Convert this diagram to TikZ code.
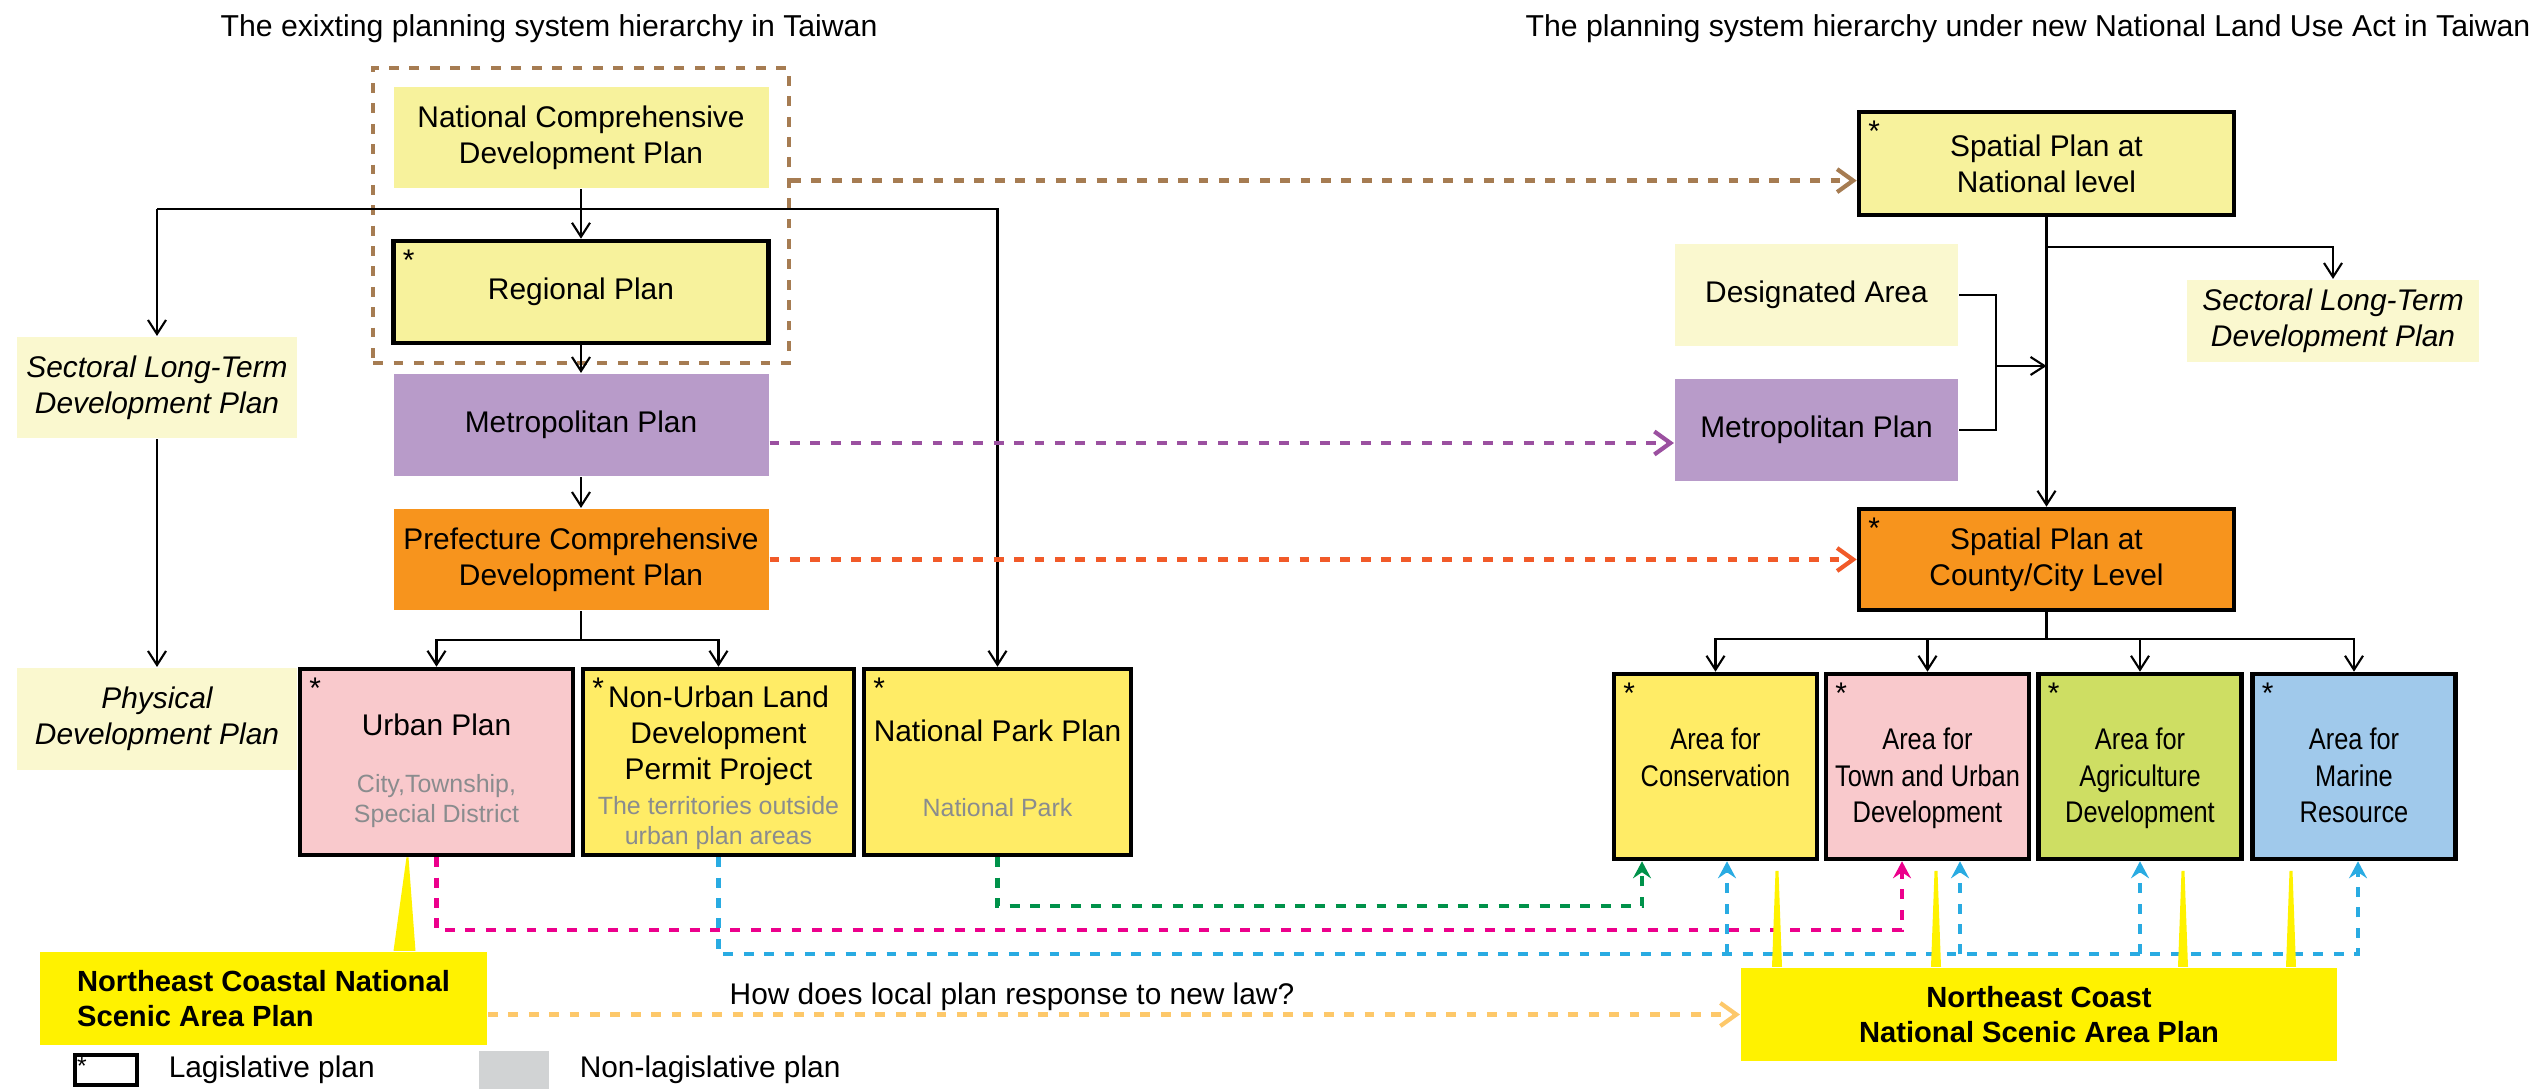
\documentclass[tikz,border=0pt]{standalone}
\usepackage{fontspec}
\setmainfont{Liberation Sans}
\newfontfamily\narrowfont[FakeStretch=0.85]{Liberation Sans}
\usepackage{xcolor}
\usepackage{tikz}
\usetikzlibrary{positioning,arrows.meta,fit}

\definecolor{paleyellow}{HTML}{FAF8CF}
\definecolor{planyellow}{HTML}{F7F29C}
\definecolor{lavender}{HTML}{B89BC9}
\definecolor{planorange}{HTML}{F7941D}
\definecolor{planpink}{HTML}{F9C9CC}
\definecolor{brightyellow}{HTML}{FFEC66}
\definecolor{planlime}{HTML}{CEDE63}
\definecolor{planblue}{HTML}{A0C9EB}
\definecolor{calloutyellow}{HTML}{FFF200}
\definecolor{linkbrown}{HTML}{A67C52}
\definecolor{linkpurple}{HTML}{9B50A0}
\definecolor{linkred}{HTML}{F15A29}
\definecolor{linkgreen}{HTML}{00924A}
\definecolor{linkpink}{HTML}{EC008C}
\definecolor{linkblue}{HTML}{29ABE2}
\definecolor{linkpeach}{HTML}{FDC86A}
\definecolor{subgray}{HTML}{8A8C8E}
\definecolor{legendgray}{HTML}{D1D3D4}

\newcommand{\plantxt}{\fontsize{8.5}{10.3}\selectfont}
\newcommand{\areatxt}{\narrowfont\fontsize{8.5}{10.3}\selectfont}
\newcommand{\subtxt}{\fontsize{7.1}{8.6}\selectfont\color{subgray}}
\newcommand{\calltxt}{\fontsize{8.3}{9.9}\selectfont\bfseries}
\newcommand{\titletxt}{\fontsize{8.6}{10.3}\selectfont}

\begin{document}
\begin{tikzpicture}[>={Straight Barb[length=1.4mm, width=1.8mm]}, line width=0.6pt,
  plan/.style={rectangle, align=center, inner sep=1pt, font=\plantxt},
  legisbox/.style={plan, draw, line width=1.3pt},
  legis/.style={legisbox, label={[anchor=north west, inner sep=3pt, font=\plantxt]north west:*}},
  widebox/.style={minimum width=3.75cm, minimum height=1.02cm},
  tallbox/.style={legis, minimum height=1.86cm},
  areabox/.style={legis, minimum width=2.03cm, minimum height=1.85cm},
  boxtext/.style={anchor=north, align=center, inner sep=1pt, font=\plantxt},
  areatext/.style={boxtext, font=\areatxt, yshift=-5.2mm},
  callout/.style={rectangle, fill=calloutyellow, align=center, inner sep=1pt, font=\calltxt},
  link/.style={line width=1.2pt, dash pattern=on 2.8pt off 3pt},
  chevron/.style={-{Straight Barb[length=1.6mm, width=2.3mm]}},
  uptip/.style={-{Stealth[length=1.7mm, width=1.8mm, inset=0.6mm]}}]

\useasboundingbox (0, 0) rectangle (25.48, -10.89);

%
\node[font=\titletxt] (titleL) at (5.49, -0.29) {The exixting planning system hierarchy in Taiwan};
\node[font=\titletxt] (titleR) at (20.28, -0.29) {The planning system hierarchy under new National Land Use Act in Taiwan};

% existing system
\node[plan, widebox, fill=planyellow, minimum height=1.01cm] (NCDP) at (5.81, -1.375) {National Comprehensive\\Development Plan};
\node[legis, widebox, fill=planyellow] (regional) at (5.81, -2.92) {Regional Plan};
\node[plan, widebox, fill=lavender] (metroL) at (5.81, -4.25) {Metropolitan Plan};
\node[plan, widebox, fill=planorange, minimum height=1.01cm] (prefecture) at (5.81, -5.595) {Prefecture Comprehensive\\Development Plan};
\node[plan, fill=paleyellow, font=\plantxt\itshape, minimum width=2.8cm, minimum height=1.01cm] (sectoralL) at (1.57, -3.875) {Sectoral Long-Term\\Development Plan};
\node[plan, fill=paleyellow, font=\plantxt\itshape, minimum width=2.8cm, minimum height=1.02cm] (physical) at (1.57, -7.19) {Physical\\Development Plan};
\node[tallbox, fill=planpink, minimum width=2.73cm,
  label={[boxtext, yshift=-4.25mm]north:{Urban Plan\\[2.1mm]{\subtxt City,Township,}\\[-0.6mm]{\subtxt Special District}}}] (urban) at (4.365, -7.62) {};
\node[tallbox, fill=brightyellow, minimum width=2.71cm,
  label={[boxtext, yshift=-1.45mm]north:{Non-Urban Land\\Development\\Permit Project\\[-0.2mm]{\subtxt The territories outside}\\[-0.6mm]{\subtxt urban plan areas}}}] (nonUrban) at (7.185, -7.62) {};
\node[tallbox, fill=brightyellow, minimum width=2.67cm,
  label={[boxtext, yshift=-4.85mm]north:{National Park Plan\\[3.9mm]{\subtxt National Park}}}] (natPark) at (9.975, -7.62) {};
\node[fit=(NCDP)(regional), draw=linkbrown, link, inner sep=0.18cm] (frame) {};

% new system
\node[legis, widebox, fill=planyellow, minimum height=1.03cm] (spatialNat) at (20.465, -1.635) {Spatial Plan at\\National level};
\node[plan, fill=paleyellow, minimum width=2.83cm, minimum height=1.02cm] (designated) at (18.165, -2.95) {Designated Area};
\node[plan, fill=lavender, minimum width=2.83cm, minimum height=1.02cm] (metroR) at (18.165, -4.30) {Metropolitan Plan};
\node[plan, fill=paleyellow, font=\plantxt\itshape, minimum width=2.92cm, minimum height=0.82cm] (sectoralR) at (23.33, -3.21) {Sectoral Long-Term\\Development Plan};
\node[legis, widebox, fill=planorange, minimum height=1.01cm] (county) at (20.465, -5.595) {Spatial Plan at\\County/City Level};
\node[areabox, fill=brightyellow, label={[areatext]north:{Area for\\Conservation}}] (conservation) at (17.155, -7.665) {};
\node[areabox, fill=planpink, label={[areatext]north:{Area for\\Town and Urban\\Development}}] (town) at (19.275, -7.665) {};
\node[areabox, fill=planlime, label={[areatext]north:{Area for\\Agriculture\\Development}}] (agri) at (21.40, -7.665) {};
\node[areabox, fill=planblue, label={[areatext]north:{Area for\\Marine\\Resource}}] (marine) at (23.54, -7.665) {};

%
\node[callout, align=left, minimum width=4.47cm, minimum height=0.93cm] (coastalL) at (2.635, -9.985) {Northeast Coastal National\\Scenic Area Plan};
\node[callout, minimum width=5.96cm, minimum height=0.93cm] (coastalR) at (20.39, -10.145) {Northeast Coast\\National Scenic Area Plan};
\node[font=\plantxt] (question) at (10.12, -9.97) {How does local plan response to new law?};

% legend
\node[legisbox, line width=1pt, minimum width=0.62cm, minimum height=0.30cm, label={[anchor=north west, inner sep=0.8pt, font=\fontsize{7}{7}\selectfont]north west:*}] (legendLeg) at (1.06, -10.70) {};
\node[anchor=west, font=\plantxt] (legendLegText) at (1.56, -10.70) {Lagislative plan};
\node[fill=legendgray, minimum width=0.70cm, minimum height=0.38cm] (legendNon) at (5.14, -10.70) {};
\node[anchor=west, font=\plantxt] (legendNonText) at (5.67, -10.70) {Non-lagislative plan};

% existing hierarchy
\coordinate (topbar) at (0, -2.09);
\draw[->] (NCDP) -- (regional);
\draw[->] (sectoralL.north |- topbar) -- (sectoralL.north);
\draw[->] (sectoralL.north |- topbar) -| (natPark.north);
\draw[->] (regional) -- (metroL);
\draw[->] (metroL) -- (prefecture);
\draw[->] (sectoralL) -- (physical);
\draw (prefecture.south) -- ++(0, -0.29) coordinate (prefbar);
\draw[->] (prefbar) -| (urban.north);
\draw[->] (prefbar) -| (nonUrban.north);

% new hierarchy
\coordinate (natbar) at (0, -2.47);
\coordinate (feed) at (19.96, -3.66);
\draw[->] (spatialNat) -- (county);
\draw[->] (spatialNat.south |- natbar) -| (sectoralR.north);
\draw (designated.east) -| (feed) |- (metroR.east);
\draw[->] (feed) -- (feed -| spatialNat.south);
\draw (county.south) -- ++(0, -0.27) coordinate (countybar);
\foreach \area in {conservation, town, agri, marine}
  \draw[->] (countybar) -| (\area.north);

% correspondences
\draw[link, linkbrown, chevron] ([yshift=3.5mm]frame.east) -- ([yshift=3.5mm]frame.east -| spatialNat.west);
\draw[link, linkpurple, chevron] ([yshift=-1.8mm]metroL.east) -- ([yshift=-1.8mm]metroL.east -| metroR.west);
\draw[link, linkred, chevron] (prefecture.east) -- (county.west);
\draw[link, linkgreen, uptip] (natPark.south) -- ++(0, -0.49) -| ([xshift=-7.35mm]conservation.south);
\draw[link, linkpink, uptip] (urban.south) -- ++(0, -0.73) -| ([xshift=-2.55mm]town.south);
\draw[link, linkblue, uptip] (nonUrban.south) -- ++(0, -0.97) coordinate (bluebar) -| ([xshift=0.4mm]marine.south);
\draw[link, linkblue, uptip] ([xshift=1.15mm]conservation.south |- bluebar) -- ([xshift=1.15mm]conservation.south);
\draw[link, linkblue, uptip] ([xshift=3.25mm]town.south |- bluebar) -- ([xshift=3.25mm]town.south);
\draw[link, linkblue, uptip] (agri.south |- bluebar) -- (agri.south);
\draw[link, linkpeach, chevron] (coastalR.west -| coastalL.east) -- (coastalR.west);

% callout pointers
\fill[calloutyellow] ([xshift=-3.0mm]urban.south) -- ([xshift=13.0mm]coastalL.north) -- ([xshift=15.2mm]coastalL.north) -- ([xshift=-2.8mm]urban.south) -- cycle;
\foreach \dx in {-2.62, -1.03, 1.44, 2.52}
  \fill[calloutyellow] ([xshift=\dx cm-0.5mm]coastalR.north) -- ([xshift=\dx cm+0.5mm]coastalR.north) -- ([xshift=\dx cm+0.15mm, yshift=9.6mm]coastalR.north) -- ([xshift=\dx cm-0.15mm, yshift=9.6mm]coastalR.north) -- cycle;

\end{tikzpicture}
\end{document}
